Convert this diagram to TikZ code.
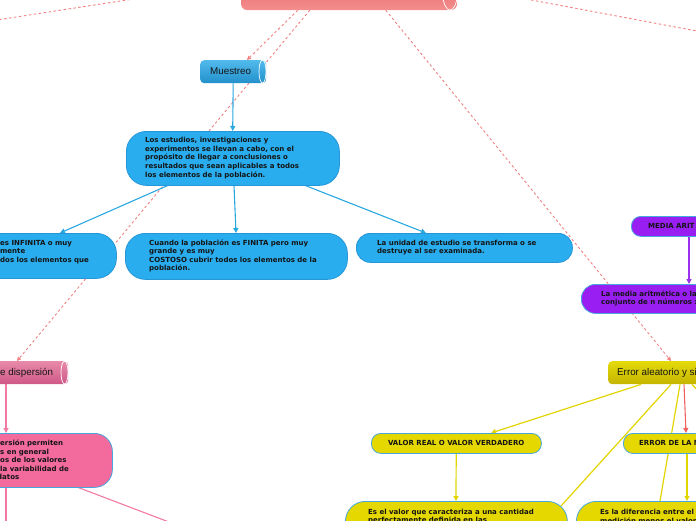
\documentclass[tikz,border=0pt]{standalone}
\usepackage{fontspec}
\setmainfont{DejaVu Sans}
\newfontfamily\cylfont{Liberation Sans}
\usetikzlibrary{arrows.meta}
\definecolor{bluefill}{RGB}{41,173,238}
\definecolor{blueline}{RGB}{38,150,215}
\definecolor{bluearr}{RGB}{41,168,224}
\definecolor{purfill}{RGB}{152,30,242}
\definecolor{purarr}{RGB}{155,48,240}
\definecolor{yelfill}{RGB}{229,216,0}
\definecolor{yelline}{RGB}{226,212,0}
\definecolor{pinkfill}{RGB}{242,107,156}
\definecolor{pinkarr}{RGB}{240,122,160}
\definecolor{lightborder}{RGB}{70,166,222}
\definecolor{salmon}{RGB}{242,128,128}
\definecolor{redarr}{RGB}{240,98,98}
\definecolor{textc}{RGB}{20,20,20}
\tikzset{
  boxbase/.style={draw, line width=0.8pt, anchor=north west, inner sep=0pt},
  bluebox/.style={boxbase, fill=bluefill, draw=blueline},
  purbox/.style={boxbase, fill=purfill, draw=lightborder},
  yelbox/.style={boxbase, fill=yelfill, draw=lightborder},
  pinkbox/.style={boxbase, fill=pinkfill, draw=lightborder},
  cylbox/.style={anchor=north west, inner sep=0pt, draw=none, rounded corners=4pt},
  capline/.style={draw=white, line width=0.7pt},
  txt/.style={anchor=west, align=left, inner sep=0pt, text=textc, font=\fontsize{7}{8.6}\selectfont\bfseries},
  cyltxt/.style={anchor=west, inner sep=0pt, text=textc, font=\cylfont\fontsize{9.8}{11}\selectfont},
  arr/.style={-{Triangle[length=5pt,width=5pt]}},
  blueln/.style={draw=bluearr, line width=1.1pt, arr},
  purln/.style={draw=purarr, line width=1.1pt, arr},
  yelln/.style={draw=yelline, line width=1.2pt},
  pinkln/.style={draw=pinkarr, line width=1.1pt},
  sdash/.style={draw=salmon, line width=0.9pt, dash pattern=on 2.5pt off 2.5pt},
  sdasharr/.style={sdash, -{Triangle[length=4pt,width=4pt]}},
}
\begin{document}
\begin{tikzpicture}[x=1pt,y=-1pt]
\useasboundingbox (0,0) rectangle (696,520);
\clip (0,0) rectangle (696,520);

% coordinates for free ends
\coordinate (fl1a) at (140,-2);
\coordinate (fl1b) at (-10,21);
\coordinate (fl2a) at (526,-1);
\coordinate (fl2b) at (702,32);
\coordinate (fy1) at (712,405);
\coordinate (fp1) at (6,530);
\coordinate (fp2) at (190,530);

% placeholders defining node names before the connectors
\path (349,-5) node[minimum width=216pt, minimum height=30pt, inner sep=0pt] (top) {};
\path (200,60) node[anchor=north west, minimum width=66pt, minimum height=23pt, inner sep=0pt] (mue) {};
\path (126,131) node[anchor=north west, minimum width=213pt, minimum height=54pt, inner sep=0pt] (est) {};
\path (-100,233) node[anchor=north west, minimum width=216pt, minimum height=45pt, inner sep=0pt] (inf) {};
\path (125,233) node[anchor=north west, minimum width=222pt, minimum height=46pt, inner sep=0pt] (fin) {};
\path (356,233) node[anchor=north west, minimum width=216pt, minimum height=29pt, inner sep=0pt] (uni) {};
\path (631,216) node[anchor=north west, minimum width=120pt, minimum height=20pt, inner sep=0pt] (med) {};
\path (581,284) node[anchor=north west, minimum width=160pt, minimum height=29pt, inner sep=0pt] (medb) {};
\path (608,361) node[anchor=north west, minimum width=140pt, minimum height=23pt, inner sep=0pt] (err) {};
\path (371,433) node[anchor=north west, minimum width=170pt, minimum height=20pt, inner sep=0pt] (valor) {};
\path (623,433) node[anchor=north west, minimum width=120pt, minimum height=20pt, inner sep=0pt] (errm) {};
\path (345,501) node[anchor=north west, minimum width=222pt, minimum height=50pt, inner sep=0pt] (esv) {};
\path (576,501) node[anchor=north west, minimum width=200pt, minimum height=50pt, inner sep=0pt] (esd) {};
\path (-60,361) node[anchor=north west, minimum width=128pt, minimum height=23pt, inner sep=0pt] (disp) {};
\path (-150,433) node[anchor=north west, minimum width=262pt, minimum height=54pt, inner sep=0pt] (pinkt) {};

% connectors
\draw[sdash] (fl1a) -- (fl1b);
\draw[sdash] (fl2a) -- (fl2b);
\draw[sdasharr] ([xshift=57pt]top.south west) -- ([xshift=47pt]mue.north west);
\draw[sdasharr] ([xshift=69pt]top.south west) -- ([xshift=77pt]disp.north west);
\draw[sdasharr] ([xshift=145pt]top.south west) -- ([xshift=63pt]err.north west);

\draw[blueln] (mue.south) -- (est.north);
\draw[blueln] ([xshift=42pt]est.south west) -- ([xshift=160pt]inf.north west);
\draw[blueln] ([xshift=108pt]est.south west) -- ([xshift=111pt]fin.north west);
\draw[blueln] ([xshift=179pt]est.south west) -- ([xshift=70pt]uni.north west);

\draw[purln] ([xshift=58pt]med.south west) -- ([xshift=108pt]medb.north west);

\draw[yelln, arr] ([xshift=33pt]err.south west) -- ([xshift=120pt]valor.north west);
\draw[yelln] ([xshift=63pt]err.south west) -- ([xshift=216pt,yshift=-5pt]esv.north west);
\draw[yelln] ([xshift=72pt]err.south west) -- ([xshift=84pt]esd.north west);
\draw[draw=redarr, line width=1.1pt, arr] ([xshift=76pt]err.south west) -- ([xshift=63pt]errm.north west);
\draw[yelln] ([xshift=84pt]err.south west) -- (fy1);
\draw[yelln, arr] (valor.south) -- ([xshift=111pt]esv.north west);
\draw[yelln, arr] ([xshift=64pt]errm.south west) -- ([xshift=111pt]esd.north west);

\draw[pinkln, arr] ([xshift=66pt]disp.south west) -- ([xshift=156pt]pinkt.north west);
\draw[pinkln] ([xshift=156pt]pinkt.south west) -- (fp1);
\draw[pinkln] ([xshift=228pt]pinkt.south west) -- (fp2);

% visible boxes
\node[cylbox, top color={rgb,255:red,230;green,104;blue,104}, bottom color={rgb,255:red,244;green,142;blue,142}, minimum width=216pt, minimum height=30pt, rounded corners=6pt] (topb) at (top.north west) {};
\draw[capline] (450,-5) ellipse (7pt and 15pt);

\node[cylbox, top color={rgb,255:red,82;green,186;blue,236}, bottom color={rgb,255:red,34;green,144;blue,204}, minimum width=66pt, minimum height=23pt] (mueb) at (mue.north west) {};
\draw[capline] (262.5,71.5) ellipse (3.5pt and 11.5pt);
\node[cyltxt] (muet) at (210,71.5) {Muestreo};

\node[bluebox, rounded corners=20pt, minimum width=213pt, minimum height=54pt] (estb) at (est.north west) {};
\node[txt] (estt) at (145,158) {Los estudios, investigaciones y\\experimentos se llevan a cabo, con el\\propósito de llegar a conclusiones o\\resultados que sean aplicables a todos\\los elementos de la población.};

\node[bluebox, rounded corners=20pt, minimum width=216pt, minimum height=45pt] (infb) at (inf.north west) {};
\node[txt] (inft) at (0,252) {es INFINITA o muy\\mente\\dos los elementos que};

\node[bluebox, rounded corners=20pt, minimum width=222pt, minimum height=46pt] (finb) at (fin.north west) {};
\node[txt] (fint) at (149,256) {Cuando la población es FINITA pero muy\\grande y es muy\\COSTOSO cubrir todos los elementos de la\\población.};

\node[bluebox, rounded corners=14pt, minimum width=216pt, minimum height=29pt] (unib) at (uni.north west) {};
\node[txt] (unit) at (377,247.5) {La unidad de estudio se transforma o se\\destruye al ser examinada.};

\node[purbox, rounded corners=9.5pt, minimum width=120pt, minimum height=20pt] (medbx) at (med.north west) {};
\node[txt] (medt) at (648,226) {MEDIA ARIT};

\node[purbox, rounded corners=14pt, minimum width=160pt, minimum height=29pt] (medbb) at (medb.north west) {};
\node[txt] (medbt) at (601,298.5) {La media aritmética o la\\conjunto de n números x};

\node[cylbox, top color={rgb,255:red,228;green,218;blue,10}, bottom color={rgb,255:red,196;green,180;blue,0}, minimum width=140pt, minimum height=23pt] (errb) at (err.north west) {};
\node[cyltxt] (errt) at (617,372.5) {Error aleatorio y si};

\node[yelbox, rounded corners=9.5pt, minimum width=170pt, minimum height=20pt] (valorb) at (valor.north west) {};
\node[txt, anchor=center] (valort) at (valor.center) {VALOR REAL O VALOR VERDADERO};

\node[yelbox, rounded corners=9.5pt, minimum width=120pt, minimum height=20pt] (errmb) at (errm.north west) {};
\node[txt] (errmt) at (639,443) {ERROR DE LA M};

\node[yelbox, rounded corners=20pt, minimum width=222pt, minimum height=50pt] (esvb) at (esv.north west) {};
\node[txt] (esvt) at (368,516.5) {Es el valor que caracteriza a una cantidad\\perfectamente definida en las};

\node[yelbox, rounded corners=20pt, minimum width=200pt, minimum height=50pt] (esdb) at (esd.north west) {};
\node[txt] (esdt) at (600,516.5) {Es la diferencia entre el\\medición menos el valor};

\node[cylbox, top color={rgb,255:red,232;green,138;blue,170}, bottom color={rgb,255:red,206;green,88;blue,134}, minimum width=128pt, minimum height=23pt] (dispb) at (disp.north west) {};
\draw[capline] (64.5,372.5) ellipse (3.5pt and 11.5pt);
\node[cyltxt] (dispt) at (0,372.5) {e dispersión};

\node[pinkbox, rounded corners=18pt, minimum width=262pt, minimum height=54pt] (pinktb) at (pinkt.north west) {};
\node[txt] (pinktt) at (0,460) {ersión permiten\\s en general\\os de los valores\\la variabilidad de\\\hspace*{-3pt}datos};
\end{tikzpicture}
\end{document}
